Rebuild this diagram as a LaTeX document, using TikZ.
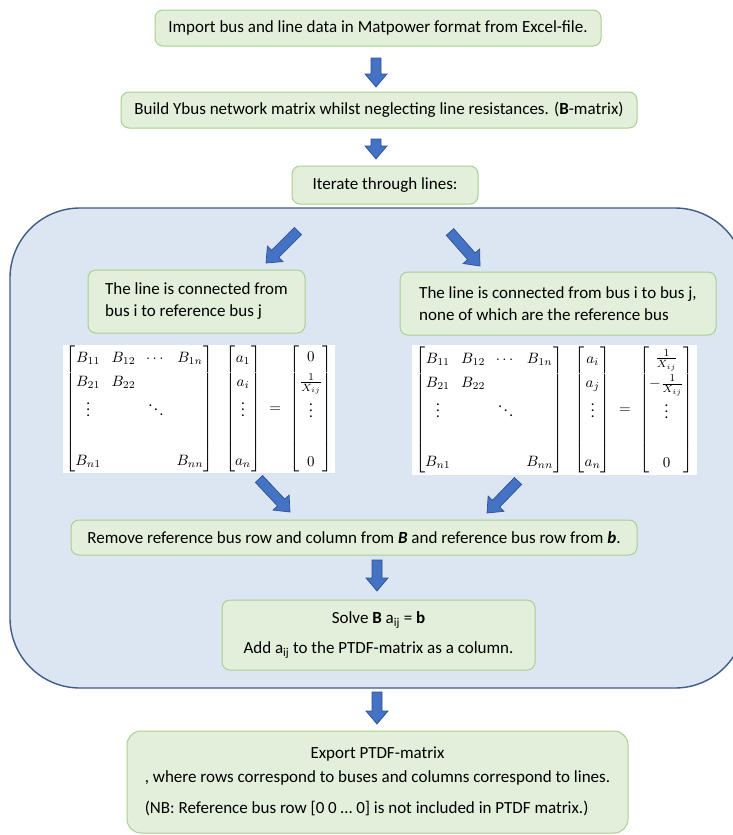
\documentclass[tikz,border=0pt]{standalone}
\usepackage{amsmath}
\usepackage{graphicx}
\usepackage{fontspec}
\setmainfont{Carlito}
\usetikzlibrary{calc}
\definecolor{gfill}{HTML}{E2EFDA}
\definecolor{gdraw}{HTML}{A9D08E}
\definecolor{bfill}{HTML}{DCE6F3}
\definecolor{bdraw}{HTML}{3F5B8C}
\definecolor{afill}{HTML}{4472C4}
\definecolor{adraw}{HTML}{2F528F}
\newcommand\blockarrow[2]{%
  \coordinate (tmpH) at ($(#2)!13pt!(#1)$);
  \filldraw[barrow] ($(#1)!5pt!90:(#2)$) -- ($(tmpH)!5pt!90:(#2)$) -- ($(tmpH)!11pt!90:(#2)$) -- (#2)
    -- ($(tmpH)!11pt!-90:(#2)$) -- ($(tmpH)!5pt!-90:(#2)$) -- ($(#1)!5pt!-90:(#2)$) -- cycle;}
\newcommand\mymat[1]{\scalebox{1.5}{\fontsize{10}{12}\selectfont\setlength\arraycolsep{3.5pt}\renewcommand\arraystretch{1.36}$#1$}}
\begin{document}
\begin{tikzpicture}[x=1pt,y=-1pt,font=\fontsize{17}{22}\selectfont,
  gbox/.style={draw=gdraw,fill=gfill,line width=1pt,rounded corners=8pt,inner sep=0pt,align=center},
  barrow/.style={fill=afill,draw=adraw,line width=0.7pt,line join=miter},
  matbox/.style={fill=white,inner sep=0pt}]
\useasboundingbox (0,0) rectangle (733,835);
\fill[white] (0,0) rectangle (733,835);

% outer loop region
\node[draw=bdraw,fill=bfill,line width=1.4pt,rounded corners=70pt,minimum width=735,minimum height=480] (loop) at (377.5,448) {};

\node[gbox,minimum width=446,minimum height=36] (b1) at (378,28) {Import bus and line data in Matpower format from Excel-file.};
\node[gbox,minimum width=516,minimum height=36] (b2) at (379,110) {Build Ybus network matrix whilst neglecting line resistances. (\textbf{B}-matrix)};
\node[gbox,minimum width=186,minimum height=38] (b3) at (385,185) {Iterate through lines:};

\node[gbox,align=left,minimum width=217,minimum height=63] (lt) at (196.5,301.5) {The line is connected from\\bus i to reference bus j};
\node[gbox,align=left,minimum width=316,minimum height=63] (rt) at (558,303.5) {The line is connected from bus i to bus j,\\none of which are the reference bus};

\node[matbox,minimum width=272,minimum height=128] (ml) at (199,409) {\mymat{%
\begin{bmatrix} B_{11} & B_{12} & \cdots & B_{1n}\\ B_{21} & B_{22} & & \\ \vdots & & \ddots & \\ & & & \\ B_{n1} & & & B_{nn}\end{bmatrix}
\hspace{6pt}\begin{bmatrix} a_1\\ a_i\\ \vdots\\ \\ a_n\end{bmatrix}\;=\;\begin{bmatrix}0\\ \frac{1}{X_{ij}}\\ \vdots\\ \\ 0\end{bmatrix}}};
\node[matbox,minimum width=285,minimum height=128] (mr) at (554.5,410) {\mymat{%
\begin{bmatrix} B_{11} & B_{12} & \cdots & B_{1n}\\ B_{21} & B_{22} & & \\ \vdots & & \ddots & \\ & & & \\ B_{n1} & & & B_{nn}\end{bmatrix}
\hspace{6pt}\begin{bmatrix} a_i\\ a_j\\ \vdots\\ \\ a_n\end{bmatrix}\;=\;\begin{bmatrix}\frac{1}{X_{ij}}\\ -\frac{1}{X_{ij}}\\ \vdots\\ \\ 0\end{bmatrix}}};

\node[gbox,minimum width=566,minimum height=35] (rm) at (354,537.5) {Remove reference bus row and column from \textbf{\textit{B}} and reference bus row from \textbf{\textit{b}}.};
\node[gbox,minimum width=313,minimum height=70] (solve) at (378.5,635) {Solve \textbf{B} a\textsubscript{ij} = \textbf{b}\\[8pt]Add a\textsubscript{ij} to the PTDF-matrix as a column.};
\node[gbox,minimum width=501,minimum height=102,rounded corners=14pt] (ex) at (377.5,782) {%
\begin{tabular}{@{}l@{}}\multicolumn{1}{@{}c@{}}{Export PTDF-matrix}\\[2pt]
, where rows correspond to buses and columns correspond to lines.\\[9pt]
(NB: Reference bus row [0 0 … 0] is not included in PTDF matrix.)\end{tabular}};

% arrow end points
\coordinate (a1s) at (376,58);  \coordinate (a1e) at (376,87);
\coordinate (a2s) at (376,139); \coordinate (a2e) at (376,159);
\coordinate (a3s) at (298,231); \coordinate (a3e) at (266,263);
\coordinate (a4s) at (450,232); \coordinate (a4e) at (480,266);
\coordinate (a5s) at (259,479); \coordinate (a5e) at (290,512);
\coordinate (a6s) at (518,481); \coordinate (a6e) at (487,513);
\coordinate (a7s) at (377,560); \coordinate (a7e) at (377,591);
\coordinate (a8s) at (377,692); \coordinate (a8e) at (377,724);
\blockarrow{a1s}{a1e}
\blockarrow{a2s}{a2e}
\blockarrow{a3s}{a3e}
\blockarrow{a4s}{a4e}
\blockarrow{a5s}{a5e}
\blockarrow{a6s}{a6e}
\blockarrow{a7s}{a7e}
\blockarrow{a8s}{a8e}
\end{tikzpicture}
\end{document}
